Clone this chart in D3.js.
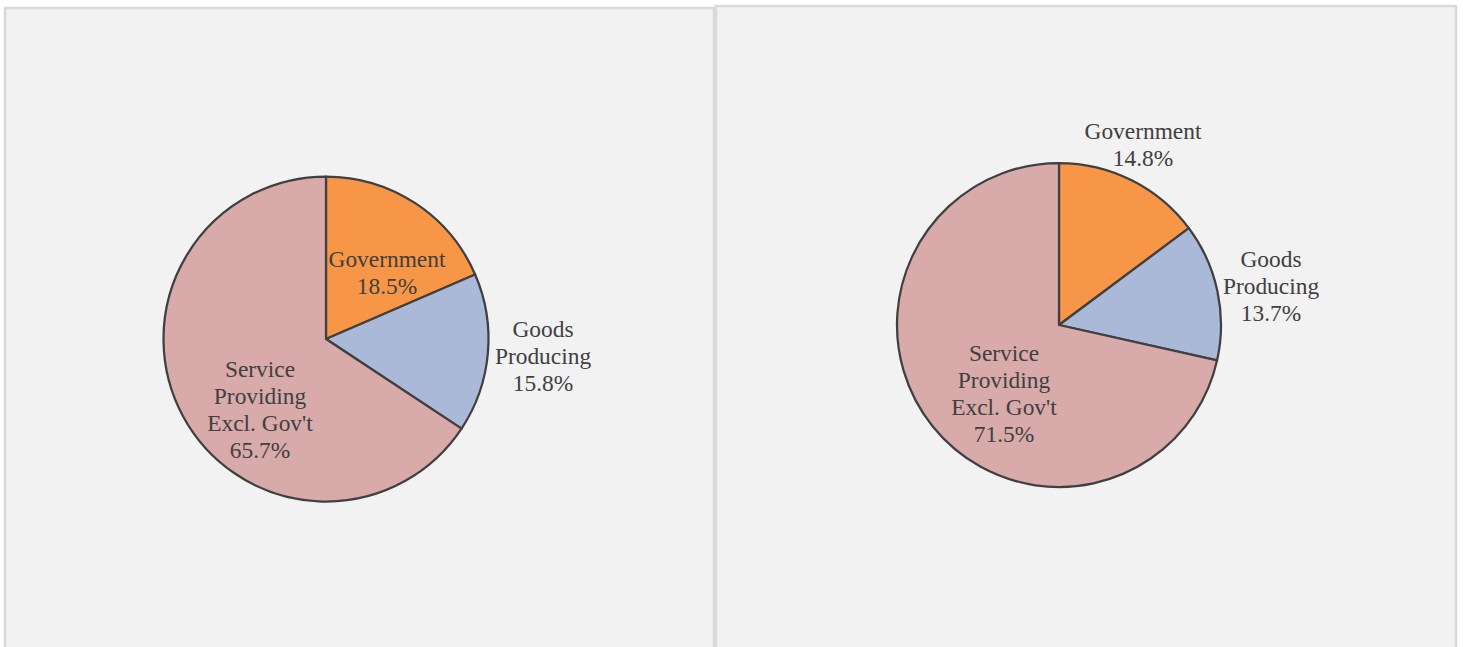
<!DOCTYPE html>
<html>
<head>
<meta charset="utf-8">
<script src="https://cdn.jsdelivr.net/npm/d3@7"></script>
<style>
  html, body { margin: 0; padding: 0; background: #ffffff; }
  svg { display: block; }
</style>
</head>
<body>
<div id="chart"></div>
<script>
// Sectors, in drawing order (clockwise from 12 o'clock)
const categories = ['Government', 'Goods Producing', 'Service Providing Excl. Gov\'t'];
// Label lines for each sector (before the percentage)
const labelLines = [['Government'], ['Goods', 'Producing'], ['Service', 'Providing', 'Excl. Gov\'t']];
// Shares in percent, left pie and right pie
const leftShares = [18.5, 15.8, 65.7];
const rightShares = [14.8, 13.7, 71.5];
const colors = ['#f79646', '#aab9d7', '#d9aaaa'];

const width = 1463, height = 647;

// Panel frames and pie placement
const panels = [
  { x: 5, y: 8, w: 709, h: 700, cx: 326, cy: 339, r: 162.5, shares: leftShares,
    // first-line baseline offsets of each label relative to pie centre
    labels: [[61, -72.5], [217, -2.3], [-66, 37.7]] },
  { x: 716, y: 6, w: 740, h: 700, cx: 1059, cy: 325, r: 162, shares: rightShares,
    labels: [[84, -185.7], [212, -58.3], [-55, 36]] }
];

const svg = d3.select('#chart').append('svg')
  .attr('width', width)
  .attr('height', height);

svg.append('rect').attr('width', width).attr('height', height).attr('fill', '#ffffff');

const pie = d3.pie().sort(null).value(d => d);
const lineH = 27;

panels.forEach(p => {
  svg.append('rect')
    .attr('x', p.x).attr('y', p.y)
    .attr('width', p.w).attr('height', p.h)
    .attr('fill', '#f2f2f2')
    .attr('stroke', '#d9d9d9')
    .attr('stroke-width', 2.5);

  const g = svg.append('g').attr('transform', `translate(${p.cx},${p.cy})`);
  const arc = d3.arc().innerRadius(0).outerRadius(p.r);

  g.selectAll('path')
    .data(pie(p.shares))
    .join('path')
    .attr('d', arc)
    .attr('fill', (d, i) => colors[i])
    .attr('stroke', '#404040')
    .attr('stroke-width', 2.25)
    .attr('stroke-linejoin', 'round');

  // Data labels
  p.shares.forEach((v, i) => {
    const lines = labelLines[i].concat([v.toFixed(1) + '%']);
    const t = g.append('text')
      .attr('text-anchor', 'middle')
      .attr('font-family', '"Liberation Serif", "Times New Roman", serif')
      .attr('font-size', 23.4)
      .attr('fill', '#404040');
    lines.forEach((s, k) => {
      t.append('tspan')
        .attr('x', p.labels[i][0])
        .attr('y', p.labels[i][1] + k * lineH)
        .text(s);
    });
  });
});
</script>
</body>
</html>
